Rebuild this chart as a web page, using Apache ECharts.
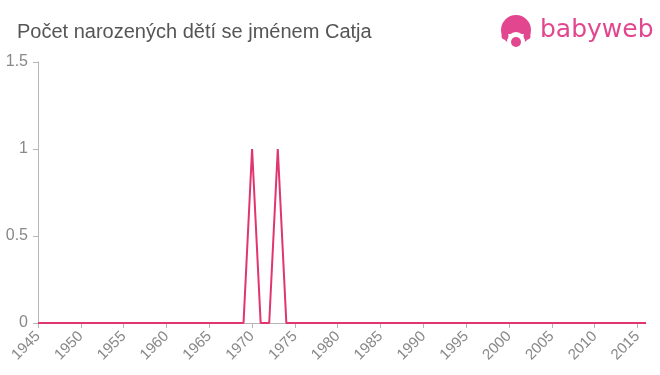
<!DOCTYPE html>
<html><head><meta charset="utf-8">
<script src="https://cdn.jsdelivr.net/npm/echarts@6/dist/echarts.min.js"></script>
<style>html,body{margin:0;padding:0;background:#fff}#c{width:660px;height:375px}</style>
</head><body><div id="c"></div>
<script>
const titleText = 'Počet narozených dětí se jménem Catja';
const years = [];
for (let y = 1945; y <= 2016; y++) years.push(y);
const nonZeroYears = [1970, 1973];
const nonZeroCounts = [1, 1];
const counts = years.map(y => { const i = nonZeroYears.indexOf(y); return i >= 0 ? nonZeroCounts[i] : 0; });
const yTicks = [0, 0.5, 1, 1.5];

const chart = echarts.init(document.getElementById('c'), null, {renderer: 'canvas'});
const pink = '#e2468f';
chart.setOption({
  animation: false,
  title: {text: titleText, left: 12, top: 17, textStyle: {fontFamily: 'Liberation Sans, Arial, sans-serif', fontSize: 20, fontWeight: 'normal', color: '#555'}},
  graphic: [
    {type: 'circle', shape: {cx: 516, cy: 30, r: 15}, style: {fill: pink}},
    {type: 'circle', shape: {cx: 516, cy: 41, r: 9}, style: {fill: '#fff'}},
    {type: 'rect', shape: {x: 503, y: 34, width: 26, height: 4}, style: {fill: '#fff'}},
    {type: 'circle', shape: {cx: 505, cy: 36, r: 3.5}, style: {fill: pink}},
    {type: 'circle', shape: {cx: 527, cy: 36, r: 3.5}, style: {fill: pink}},
    {type: 'circle', shape: {cx: 516, cy: 42, r: 5}, style: {fill: pink}},
    {type: 'text', left: 540, top: 18, style: {text: 'babyweb', fill: pink, font: '25px "DejaVu Sans", sans-serif'}}
  ],
  grid: {left: 38, right: 14, top: 62, bottom: 52, containLabel: false},
  xAxis: {
    type: 'value', min: 1945, max: 2016, interval: 5,
    axisLine: {lineStyle: {color: '#b5b5b5', width: 1}},
    axisTick: {show: true, length: 5, lineStyle: {color: '#b5b5b5'}},
    splitLine: {show: false},
    axisLabel: {rotate: 45, color: '#888', fontSize: 15, fontFamily: 'Liberation Sans, Arial, sans-serif', margin: 11,
      showMaxLabel: false, formatter: v => (v % 5 === 0 ? String(v) : '')}
  },
  yAxis: {
    type: 'value', min: 0, max: 1.5, interval: 0.5,
    axisLine: {show: true, lineStyle: {color: '#b5b5b5', width: 1}},
    axisTick: {show: true, length: 5, lineStyle: {color: '#b5b5b5'}},
    splitLine: {show: false},
    axisLabel: {color: '#888', fontSize: 16, fontFamily: 'Liberation Sans, Arial, sans-serif', margin: 10,
      formatter: v => (yTicks.indexOf(v) >= 0 ? String(v) : '')}
  },
  series: [{
    type: 'line', data: years.map((y, i) => [y, counts[i]]),
    showSymbol: false, symbol: 'none',
    lineStyle: {color: '#e0356f', width: 2}
  }]
});
</script></body></html>
